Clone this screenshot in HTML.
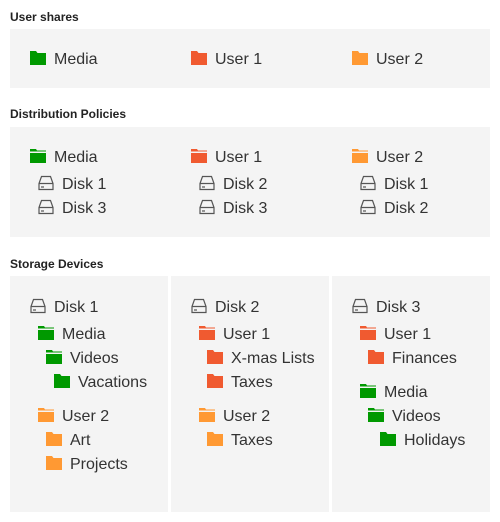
<!DOCTYPE html>
<html><head><meta charset="utf-8"><style>
html,body{margin:0;padding:0;background:#fff;}
body{width:500px;height:522px;position:relative;overflow:hidden;font-family:"Liberation Sans",sans-serif;color:#333;}
.h{position:absolute;left:10px;font-size:12px;font-weight:bold;color:#222;line-height:14px;}
.p{position:absolute;background:#f4f4f4;}
.i{position:absolute;font-size:16px;line-height:20px;white-space:nowrap;color:#333;}
.i svg{position:absolute;left:0;}
.i span{position:absolute;top:2px;}
</style></head><body>
<svg width="0" height="0" style="position:absolute">
<defs>
<symbol id="fc" viewBox="0 0 16 14"><path d="M0 0H6L7.5 2H16V14H0Z"/></symbol>
<symbol id="fo" viewBox="0 0 16 14"><path d="M0 0H6L7 1.5H16V2.5H0Z"/><path d="M0 4H16V14H0Z"/></symbol>
<symbol id="dk" viewBox="0 0 16 16"><path d="M3.5 1.5H12.5L15 8.5V14.5H1V8.5Z M1 8.5H15" fill="none" stroke="#555" stroke-width="1.2"/><path d="M3 12H6" stroke="#555" stroke-width="1.2"/></symbol>
</defs></svg>

<div class="h" style="top:10px">User shares</div>
<div class="p" style="left:10px;top:29px;width:480px;height:59px"></div>
<div class="h" style="top:107px">Distribution Policies</div>
<div class="p" style="left:10px;top:127px;width:480px;height:110px"></div>
<div class="h" style="top:257px">Storage Devices</div>
<div class="p" style="left:10px;top:276px;width:158px;height:236px"></div>
<div class="p" style="left:171px;top:276px;width:158px;height:236px"></div>
<div class="p" style="left:332px;top:276px;width:158px;height:236px"></div>

<div class="i" style="left:30px;top:48px"><svg width="16" height="14" style="top:3px;fill:#009900"><use href="#fc"/></svg><span style="left:24px">Media</span></div>
<div class="i" style="left:191px;top:48px"><svg width="16" height="14" style="top:3px;fill:#f05a30"><use href="#fc"/></svg><span style="left:24px">User 1</span></div>
<div class="i" style="left:352px;top:48px"><svg width="16" height="14" style="top:3px;fill:#ff9933"><use href="#fc"/></svg><span style="left:24px">User 2</span></div>

<div class="i" style="left:30px;top:146px"><svg width="16" height="14" style="top:3px;fill:#009900"><use href="#fo"/></svg><span style="left:24px">Media</span></div>
<div class="i" style="left:38px;top:173px"><svg width="16" height="16" style="top:2px"><use href="#dk"/></svg><span style="left:24px">Disk 1</span></div>
<div class="i" style="left:38px;top:197px"><svg width="16" height="16" style="top:2px"><use href="#dk"/></svg><span style="left:24px">Disk 3</span></div>
<div class="i" style="left:191px;top:146px"><svg width="16" height="14" style="top:3px;fill:#f05a30"><use href="#fo"/></svg><span style="left:24px">User 1</span></div>
<div class="i" style="left:199px;top:173px"><svg width="16" height="16" style="top:2px"><use href="#dk"/></svg><span style="left:24px">Disk 2</span></div>
<div class="i" style="left:199px;top:197px"><svg width="16" height="16" style="top:2px"><use href="#dk"/></svg><span style="left:24px">Disk 3</span></div>
<div class="i" style="left:352px;top:146px"><svg width="16" height="14" style="top:3px;fill:#ff9933"><use href="#fo"/></svg><span style="left:24px">User 2</span></div>
<div class="i" style="left:360px;top:173px"><svg width="16" height="16" style="top:2px"><use href="#dk"/></svg><span style="left:24px">Disk 1</span></div>
<div class="i" style="left:360px;top:197px"><svg width="16" height="16" style="top:2px"><use href="#dk"/></svg><span style="left:24px">Disk 2</span></div>

<div class="i" style="left:30px;top:296px"><svg width="16" height="16" style="top:2px"><use href="#dk"/></svg><span style="left:24px">Disk 1</span></div>
<div class="i" style="left:38px;top:323px"><svg width="16" height="14" style="top:3px;fill:#009900"><use href="#fo"/></svg><span style="left:24px">Media</span></div>
<div class="i" style="left:46px;top:347px"><svg width="16" height="14" style="top:3px;fill:#009900"><use href="#fo"/></svg><span style="left:24px">Videos</span></div>
<div class="i" style="left:54px;top:371px"><svg width="16" height="14" style="top:3px;fill:#009900"><use href="#fc"/></svg><span style="left:24px">Vacations</span></div>
<div class="i" style="left:38px;top:405px"><svg width="16" height="14" style="top:3px;fill:#ff9933"><use href="#fo"/></svg><span style="left:24px">User 2</span></div>
<div class="i" style="left:46px;top:429px"><svg width="16" height="14" style="top:3px;fill:#ff9933"><use href="#fc"/></svg><span style="left:24px">Art</span></div>
<div class="i" style="left:46px;top:453px"><svg width="16" height="14" style="top:3px;fill:#ff9933"><use href="#fc"/></svg><span style="left:24px">Projects</span></div>

<div class="i" style="left:191px;top:296px"><svg width="16" height="16" style="top:2px"><use href="#dk"/></svg><span style="left:24px">Disk 2</span></div>
<div class="i" style="left:199px;top:323px"><svg width="16" height="14" style="top:3px;fill:#f05a30"><use href="#fo"/></svg><span style="left:24px">User 1</span></div>
<div class="i" style="left:207px;top:347px"><svg width="16" height="14" style="top:3px;fill:#f05a30"><use href="#fc"/></svg><span style="left:24px">X-mas Lists</span></div>
<div class="i" style="left:207px;top:371px"><svg width="16" height="14" style="top:3px;fill:#f05a30"><use href="#fc"/></svg><span style="left:24px">Taxes</span></div>
<div class="i" style="left:199px;top:405px"><svg width="16" height="14" style="top:3px;fill:#ff9933"><use href="#fo"/></svg><span style="left:24px">User 2</span></div>
<div class="i" style="left:207px;top:429px"><svg width="16" height="14" style="top:3px;fill:#ff9933"><use href="#fc"/></svg><span style="left:24px">Taxes</span></div>

<div class="i" style="left:352px;top:296px"><svg width="16" height="16" style="top:2px"><use href="#dk"/></svg><span style="left:24px">Disk 3</span></div>
<div class="i" style="left:360px;top:323px"><svg width="16" height="14" style="top:3px;fill:#f05a30"><use href="#fo"/></svg><span style="left:24px">User 1</span></div>
<div class="i" style="left:368px;top:347px"><svg width="16" height="14" style="top:3px;fill:#f05a30"><use href="#fc"/></svg><span style="left:24px">Finances</span></div>
<div class="i" style="left:360px;top:381px"><svg width="16" height="14" style="top:3px;fill:#009900"><use href="#fo"/></svg><span style="left:24px">Media</span></div>
<div class="i" style="left:368px;top:405px"><svg width="16" height="14" style="top:3px;fill:#009900"><use href="#fo"/></svg><span style="left:24px">Videos</span></div>
<div class="i" style="left:380px;top:429px"><svg width="16" height="14" style="top:3px;fill:#009900"><use href="#fc"/></svg><span style="left:24px">Holidays</span></div>
</body></html>
